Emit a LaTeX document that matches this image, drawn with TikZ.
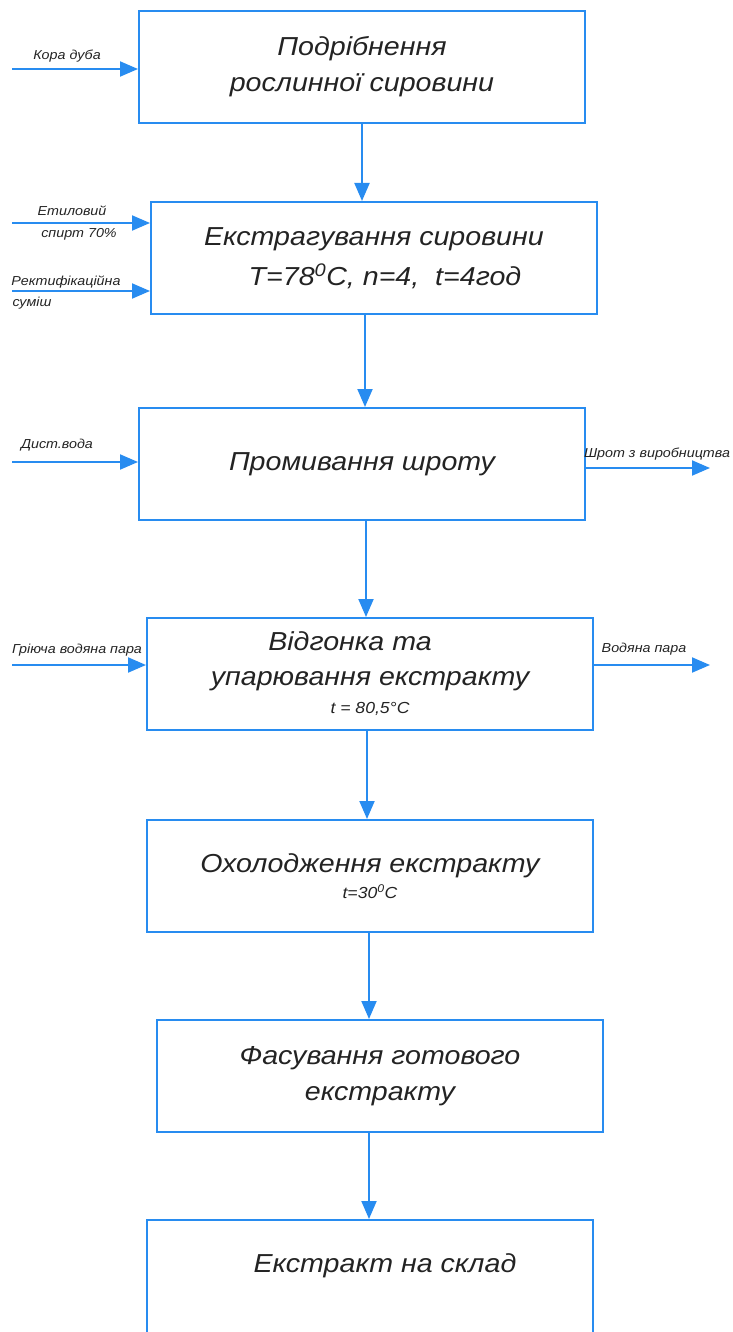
\documentclass[tikz,border=0pt]{standalone}
\usepackage{fontspec}
\setmainfont{Liberation Sans}[FakeStretch=1.1]
\usepackage{tikz}
\usetikzlibrary{arrows.meta,positioning}
\definecolor{flowblue}{RGB}{40,140,240}
\definecolor{ink}{RGB}{35,35,35}
\tikzset{
    %Define standard arrow tip
    >={Triangle[length=18pt,width=15pt]},
    %Define style for process boxes
    stage/.style={
           rectangle,
           draw=flowblue, line width=2pt,
           minimum width=446pt,
           minimum height=112pt,
           inner sep=0pt,
           align=center,
           text=ink,
           font=\fontsize{26}{36}\selectfont\itshape},
    %Define style for stream names
    stream/.style={
           anchor=base,
           inner sep=0pt,
           align=center,
           text=ink,
           font=\fontsize{13}{20}\selectfont\itshape},
    % Define arrow style
    flow/.style={
           ->,
           draw=flowblue,
           line width=2pt}
}
\begin{document}
\begin{tikzpicture}[x=1pt,y=-1pt]
\useasboundingbox (0,0) rectangle (732,1332);
\clip (0,0) rectangle (732,1332);

 %process boxes
\node[stage] (grind) at (362,67) {Подрібнення\\рослинної сировини};
\node[stage, below=77pt of grind, xshift=12pt] (extract)
    {Екстрагування сировини\\[4pt]\hspace*{22pt}T=78\textsuperscript{0}C, n=4, \ t=4год};
\node[stage, below=92pt of extract, xshift=-12pt] (wash) {Промивання шроту};
\node[stage, below=96pt of wash, xshift=8pt] (distil)
    {Відгонка та\hspace*{40pt}\\[-1pt]упарювання екстракту\\[-8pt]{\fontsize{16}{20}\selectfont t = 80,5°C}};
\node[stage, below=88pt of distil] (cool)
    {Охолодження екстракту\\[-10pt]{\fontsize{16}{20}\selectfont t=30\textsuperscript{0}C}};
\node[stage, below=86pt of cool, xshift=10pt] (pack) {Фасування готового\\екстракту};
\node[stage, below=86pt of pack, xshift=-10pt, minimum height=130pt,
      text height=19pt, text depth=45pt] (store) {\hspace*{30pt}Екстракт на склад};

 %main flow
\draw[flow] (grind.south) -- (grind.south |- extract.north);
\draw[flow] ([xshift=-9pt]extract.south) -- ([xshift=-9pt]extract.south |- wash.north);
\draw[flow] ([xshift=4pt]wash.south) -- ([xshift=4pt]wash.south |- distil.north);
\draw[flow] ([xshift=-3pt]distil.south) -- ([xshift=-3pt]distil.south |- cool.north);
\draw[flow] ([xshift=-1pt]cool.south) -- ([xshift=-1pt]cool.south |- pack.north);
\draw[flow] ([xshift=-11pt]pack.south) -- ([xshift=-11pt]pack.south |- store.north);

 %side streams
\coordinate (korain) at (12,69);
\coordinate (spirtin) at (12,223);
\coordinate (rectin) at (12,291);
\coordinate (waterin) at (12,462);
\coordinate (steamin) at (12,665);
\coordinate (shrotout) at (710,468);
\coordinate (steamout) at (710,665);
\draw[flow] (korain) -- (korain -| grind.west);
\draw[flow] (spirtin) -- (spirtin -| extract.west);
\draw[flow] (rectin) -- (rectin -| extract.west);
\draw[flow] (waterin) -- (waterin -| wash.west);
\draw[flow] (steamin) -- (steamin -| distil.west);
\draw[flow] (shrotout -| wash.east) -- (shrotout);
\draw[flow] (steamout -| distil.east) -- (steamout);

\node[stream] (kora) at (67,60) {Кора дуба};
\node[stream] (spirt1) at (72,216) {Етиловий};
\node[stream] (spirt2) at (79,238) {спирт 70\%};
\node[stream] (rect1) at (66,285) {Ректифікаційна};
\node[stream] (rect2) at (32,306) {суміш};
\node[stream] (water) at (57,448) {Дист.вода};
\node[stream] (shrot) at (657,457) {Шрот з виробництва};
\node[stream] (steam) at (77,653) {Гріюча водяна пара};
\node[stream] (vapour) at (644,652) {Водяна пара};
\end{tikzpicture}
\end{document}
